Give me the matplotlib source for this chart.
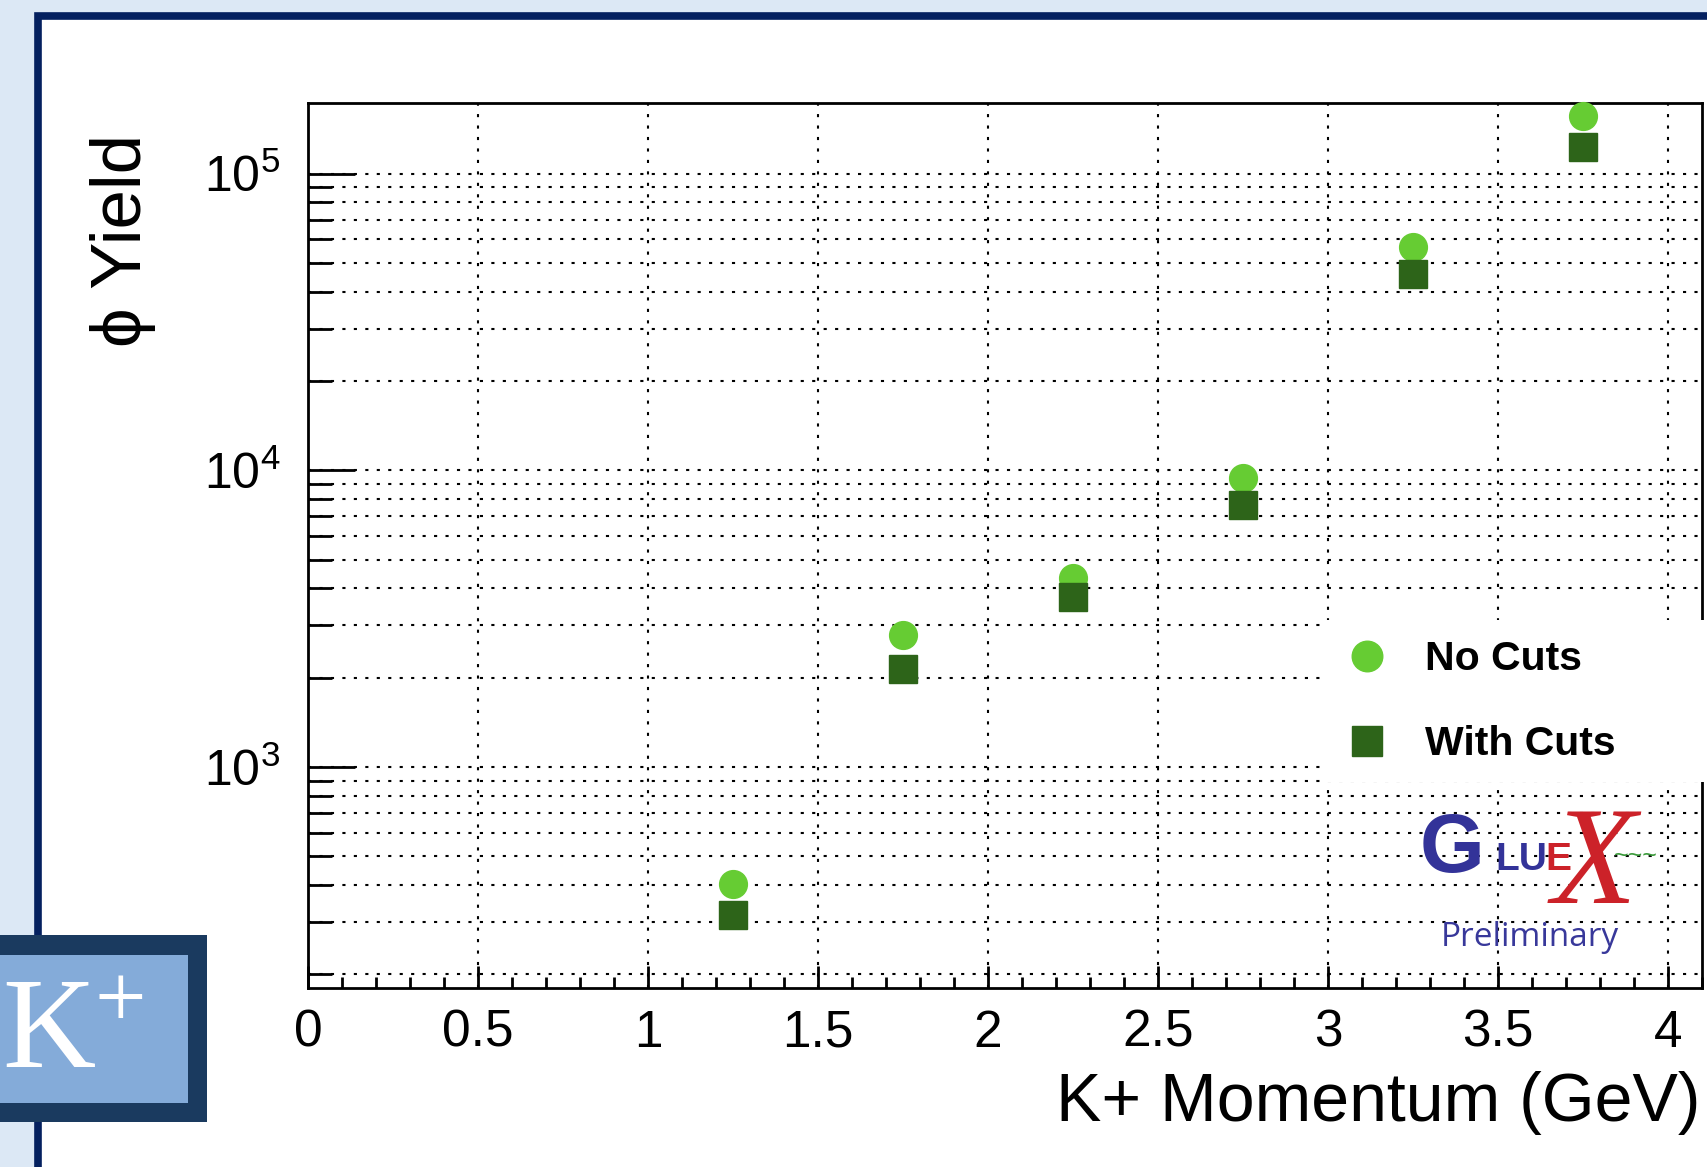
import matplotlib
matplotlib.use('Agg')
import matplotlib.pyplot as plt
import matplotlib.patches as mpatches
from matplotlib.lines import Line2D
from matplotlib.ticker import LogLocator, NullFormatter, MultipleLocator
import numpy as np

plt.rcParams['font.family'] = ['Liberation Sans', 'DejaVu Sans']
plt.rcParams['mathtext.fontset'] = 'custom'
plt.rcParams['mathtext.rm'] = 'Liberation Sans'
plt.rcParams['mathtext.default'] = 'regular'

# phi yield per K+ momentum bin
momentum = [1.25, 1.75, 2.25, 2.75, 3.25, 3.75]
yield_no_cuts = [405, 2780, 4350, 9390, 56800, 156500]
yield_with_cuts = [317, 2140, 3740, 7660, 46000, 122500]
x_ticks = [0, 0.5, 1, 1.5, 2, 2.5, 3, 3.5, 4]
x_tick_labels = ['0', '0.5', '1', '1.5', '2', '2.5', '3', '3.5', '4']

light_green = '#66cc33'
dark_green = '#2d6419'
navy = '#04205f'

W, H = 1707, 1167
fig = plt.figure(figsize=(W / 100, H / 100), dpi=100)
fig.patch.set_facecolor('#dce8f5')


def fx(px):
    return px / W


def fy(py):
    return 1 - py / H


# slide frame
frame = mpatches.Rectangle((fx(38), -0.2), 2, fy(16.2) + 0.2, transform=fig.transFigure,
                           facecolor='white', edgecolor=navy, lw=5.5, zorder=-1)
fig.add_artist(frame)

ax = fig.add_axes([fx(308), fy(988), fx(1702) - fx(308), fy(103) - fy(988)])
ax.set_facecolor('white')

ax.plot(momentum, yield_no_cuts, 'o', ms=20, color=light_green, mec=light_green,
        zorder=4, clip_on=False)
ax.plot(momentum, yield_with_cuts, 's', ms=20, color=dark_green, mec=dark_green,
        zorder=4, clip_on=False)

ax.set_yscale('log')
ax.set_xlim(0, 4.1)
ax.set_ylim(180, 1.73e5)

ax.set_xticks(x_ticks)
ax.set_xticklabels(x_tick_labels)
ax.xaxis.set_minor_locator(MultipleLocator(0.1))
ax.yaxis.set_major_locator(LogLocator(base=10))
ax.yaxis.set_minor_locator(LogLocator(base=10, subs=np.arange(2, 10)))
ax.yaxis.set_minor_formatter(NullFormatter())

dots = (0, (1.5, 4))
ax.grid(True, which='major', axis='x', color='black', lw=1.5, linestyle=dots)
ax.grid(True, which='both', axis='y', color='black', lw=1.5, linestyle=dots)

ax.tick_params(axis='y', which='major', direction='in', length=34, width=2, labelsize=36, pad=20)
ax.tick_params(axis='y', which='minor', direction='in', length=17, width=2)
ax.tick_params(axis='x', which='major', direction='in', length=16, width=2, labelsize=37, pad=15)
ax.tick_params(axis='x', which='minor', direction='in', length=8, width=2)

for s in ax.spines.values():
    s.set_linewidth(2)

# axis titles, ROOT style (aligned to the ends)
fig.text(fx(1701), fy(1103), 'K+ Momentum (GeV)', ha='right', va='center', fontsize=49)
fig.text(fx(123), fy(134), 'ϕ Yield', rotation=90, ha='center', va='top', fontsize=51)

# legend on a white box
fig.add_artist(mpatches.Rectangle((fx(1320), fy(782)), 1, fy(620) - fy(782),
                                  transform=fig.transFigure, facecolor='white',
                                  edgecolor='none', zorder=1))
handles = [Line2D([], [], ls='none', marker='o', ms=22, color=light_green, mec=light_green),
           Line2D([], [], ls='none', marker='s', ms=22, color=dark_green, mec=dark_green)]
fig.legend(handles, ['No Cuts', 'With Cuts'], loc='upper left',
           bbox_to_anchor=(fx(1347), fy(640)), frameon=False,
           prop=dict(weight='bold', size=29.5), handlelength=1.0, handletextpad=0.9,
           labelspacing=1.15, borderpad=0, borderaxespad=0)

# GlueX logo (text approximation)
fig.text(fx(1452), fy(850), 'G', fontsize=60, weight='bold', color='#333399',
         ha='center', va='center', zorder=3)
fig.text(fx(1495), fy(870), 'LU', fontsize=28, weight='bold', color='#333399',
         ha='left', va='baseline', zorder=3)
fig.text(fx(1545), fy(870), 'E', fontsize=28, weight='bold', color='#cc2229',
         ha='left', va='baseline', zorder=3)
fig.text(fx(1594), fy(903), 'X', fontsize=100, style='italic', family='Liberation Serif',
         color='#cc2229', ha='center', va='baseline', zorder=3)
fig.text(fx(1614), fy(856), '~~~', fontsize=18, color='#3a9a3a', ha='left', va='center', zorder=3)
fig.text(fx(1530), fy(938), 'Preliminary', fontsize=24, family='Open Sans', color='#38389a',
         ha='center', va='center', zorder=3)

# K+ tag in the lower left corner
fig.add_artist(mpatches.Rectangle((0, fy(1121.5)), fx(206.5), fy(935) - fy(1121.5),
                                  transform=fig.transFigure, facecolor='#1a3a5f',
                                  edgecolor='none', zorder=1))
fig.add_artist(mpatches.Rectangle((0, fy(1102.5)), fx(187.5), fy(954.5) - fy(1102.5),
                                  transform=fig.transFigure, facecolor='#84abd9',
                                  edgecolor='none', zorder=1))
fig.text(fx(96), fy(1067), 'K', ha='right', va='baseline', fontsize=93,
         family='Liberation Serif', color='white', zorder=3)
fig.text(fx(120), fy(1027), '+', ha='center', va='baseline', fontsize=66,
         family='Liberation Serif', color='white', zorder=3)

fig.savefig('out.png', dpi=100, facecolor=fig.get_facecolor())
